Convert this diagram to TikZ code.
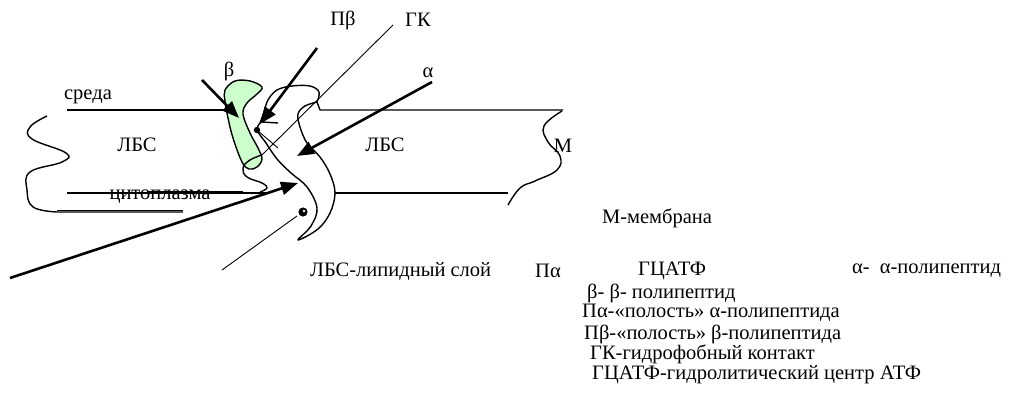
\documentclass[tikz,border=0pt]{standalone}
\usepackage{fontspec}
\setmainfont{Liberation Serif}
\usetikzlibrary{arrows.meta}
\definecolor{betagreen}{RGB}{204,255,204}
\begin{document}
\begin{tikzpicture}[x=1pt,y=-1pt,
  line/.style={line width=1.4pt, line join=round},
  thinline/.style={line width=0.9pt},
  pointer/.style={line width=2.6pt,-{Triangle[length=17pt,width=13pt]}},
  lbl/.style={font=\fontsize{20.5}{24}\selectfont,inner sep=0pt},
  leg/.style={lbl,anchor=west},
]
\useasboundingbox (0,0) rectangle (1018,406);

% membrane boundaries
\draw[line] (67,110) -- (230,110);
\draw[line] (563,110) -- (320,110) -- (317,102);
\draw[line] (67,193) -- (267,193);
\draw[line width=2.6pt] (147,192) -- (243,192);
\draw[line] (335,193) -- (508,193);

% left wavy edge of the lipid layer
\draw[line] plot[smooth,tension=0.7] coordinates {(47,116) (30,127) (32,139) (66,153) (62,162) (30,172) (27,190) (33,207) (57,212)} -- (183,212);
\draw[thinline] (57,210.5) -- (183,210.5);

% right wavy edge (membrane M)
\draw[line] plot[smooth,tension=0.7] coordinates {(562,111) (544,126) (548,142) (560,156) (557,170) (535,181) (520,188) (508,205)};

% beta polypeptide
\draw[line, fill=betagreen] plot[smooth cycle,tension=0.6] coordinates {(225,90) (235,81) (250,81) (262,87) (257,94) (247,103) (243,114) (250,133) (258,148) (262,159) (257,167) (249,169) (242,162) (233,138) (228,118) (225,101)};

% alpha polypeptide outline
\draw[line] plot[smooth,tension=0.6] coordinates {(317,102) (319,92) (310,86) (292,86) (277,90) (268,100) (264,112) (260,123) (257,130) (266,143) (277,159) (291,173) (307,187) (317,208) (311,226) (298,240) (318,229) (330,213) (335,193) (330,174) (320,157) (307,143) (300,127) (298,114) (305,106) (317,102)};

% hydrophobic contact line
\coordinate (gk-end) at (262,155);
\draw[thinline] (393,25) -- (gk-end);
\draw[line] plot[smooth,tension=0.7] coordinates {(262,155) (250,160) (243,168) (247,177) (262,183) (267,188) (260,192)};

% small marks near the contact
\draw[line] (262,122) -- (278,123);
\draw[thinline] (258,131) -- (278,148);
\fill (257,130) circle (3.2pt);

% hydrolytic centre marker
\coordinate (hc-tail) at (222,270);
\coordinate (hc) at (303,212);
\draw[thinline] (hc-tail) -- (297,216);
\fill (hc) circle (4.6pt);
\fill[white] (304,211) circle (1.3pt);

% labels
\node[lbl] (sreda) at (88,97) {среда};
\node[lbl] (lbs1) at (137,145) {ЛБС};
\node[lbl] (lbs2) at (385,145) {ЛБС};
\node[lbl] (cyto) at (160,197) {цитоплазма};
\node[lbl] (beta) at (229,71) {β};
\node[lbl] (pbeta) at (343,20) {Пβ};
\node[lbl] (gk) at (418,20) {ГК};
\node[lbl] (alpha) at (428,73) {α};
\node[lbl] (m) at (563,146) {М};
\node[lbl] (mm) at (657,218) {М-мембрана};

% pointers
\coordinate (b-tail) at (202,80);  \coordinate (b-tip) at (239,118);
\coordinate (pb-tail) at (317,48); \coordinate (pb-tip) at (260,124);
\coordinate (a-tail) at (432,82);  \coordinate (a-tip) at (297,156);
\coordinate (pa-tail) at (10,278); \coordinate (pa-tip) at (298,183);
\draw[pointer] (b-tail) -- (b-tip);
\draw[pointer] (pb-tail) -- (pb-tip);
\draw[pointer] (a-tail) -- (a-tip);
\draw[pointer] (pa-tail) -- (pa-tip);

% legend
\node[leg] (l1) at (310,271) {ЛБС-липидный слой};
\node[leg] (l2) at (535,271) {Пα};
\node[leg] (l3) at (638,271) {ГЦАТФ};
\node[leg] (l4) at (852,271) {α-\hspace{5pt} α-полипептид};
\node[leg] (l5) at (587,293) {β- β- полипептид};
\node[leg] (l6) at (582,313) {Пα-«полость» α-полипептида};
\node[leg] (l7) at (584,334) {Пβ-«полость» β-полипептида};
\node[leg] (l8) at (590,354) {ГК-гидрофобный контакт};
\node[leg] (l9) at (592,375) {ГЦАТФ-гидролитический центр АТФ};
\end{tikzpicture}
\end{document}
